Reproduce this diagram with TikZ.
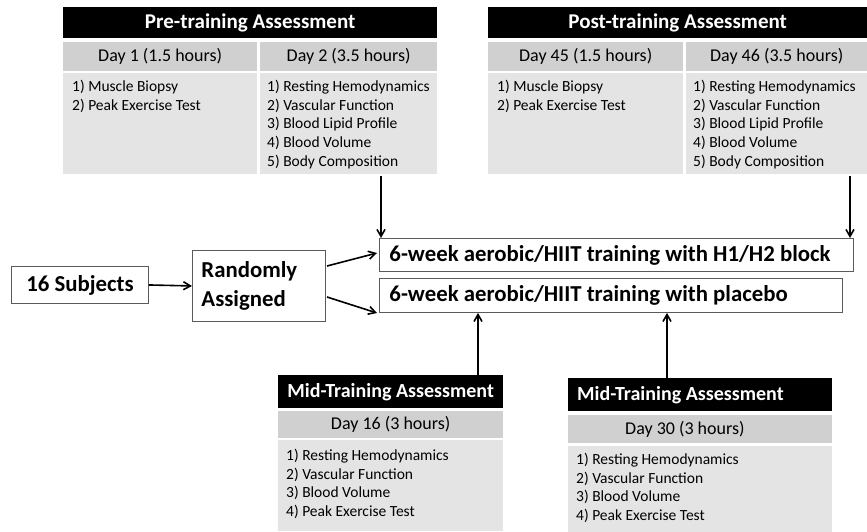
\documentclass[tikz,border=0pt]{standalone}
\usepackage{fontspec}
\setmainfont{Carlito}
\usetikzlibrary{arrows.meta}
\definecolor{daygray}{RGB}{208,208,208}
\definecolor{listgray}{RGB}{228,228,228}
\definecolor{boxline}{RGB}{90,90,90}
\begin{document}
\begin{tikzpicture}[x=1pt,y=-1pt,
  hdr/.style={fill=black, text=white, font=\fontsize{21}{24}\selectfont\bfseries, inner sep=0pt, anchor=north west},
  midhdr/.style={hdr, font=\fontsize{20}{24}\selectfont\bfseries},
  dayc/.style={fill=daygray, font=\fontsize{18}{21}\selectfont, inner sep=0pt, anchor=north west},
  listc/.style={fill=listgray, inner sep=0pt, anchor=north west},
  items/.style={font=\fontsize{15.5}{18.7}\selectfont, align=left, anchor=north west, inner sep=0pt},
  plainbox/.style={draw=boxline, line width=0.9pt, fill=white, inner sep=0pt, font=\fontsize{22.8}{29}\selectfont\bfseries},
  arr/.style={-{Straight Barb[length=7pt,width=8pt]}, line width=1.6pt}
]
\useasboundingbox (0,0) rectangle (867,531);

% ---------- Pre-training ----------
\node[hdr, minimum width=374pt, minimum height=31pt] (preH) at (63,7) {Pre-training Assessment};
\node[dayc, minimum width=194pt, minimum height=29pt] (d1) at (63,42) {Day 1 (1.5 hours)};
\node[dayc, minimum width=177pt, minimum height=29pt] (d2) at (260,42) {Day 2 (3.5 hours)};
\node[listc, minimum width=194pt, minimum height=101pt] (d1l) at (63,73) {};
\node[listc, minimum width=177pt, minimum height=101pt] (d2l) at (260,73) {};
\node[items] (d1t) at (72,80) {1) Muscle Biopsy\\2) Peak Exercise Test};
\node[items] (d2t) at (267,80) {1) Resting Hemodynamics\\2) Vascular Function\\3) Blood Lipid Profile\\4) Blood Volume\\5) Body Composition};

% ---------- Post-training ----------
\node[hdr, minimum width=379pt, minimum height=31pt] (postH) at (488,7) {Post-training Assessment};
\node[dayc, minimum width=195pt, minimum height=29pt] (d45) at (488,42) {Day 45 (1.5 hours)};
\node[dayc, minimum width=181pt, minimum height=29pt] (d46) at (686,42) {Day 46 (3.5 hours)};
\node[listc, minimum width=195pt, minimum height=101pt] (d45l) at (488,73) {};
\node[listc, minimum width=181pt, minimum height=101pt] (d46l) at (686,73) {};
\node[items] (d45t) at (497,80) {1) Muscle Biopsy\\2) Peak Exercise Test};
\node[items] (d46t) at (693,80) {1) Resting Hemodynamics\\2) Vascular Function\\3) Blood Lipid Profile\\4) Blood Volume\\5) Body Composition};

% ---------- Middle row ----------
\node[plainbox, anchor=north west, minimum width=137pt, minimum height=37pt] (subj) at (11,266) {16 Subjects};
\node[plainbox, anchor=north west, minimum width=133pt, minimum height=71pt, text width=123pt, inner xsep=5pt, align=left] (rand) at (192,250) {\hspace*{4pt}Randomly\\\hspace*{4pt}Assigned};
\node[plainbox, anchor=north west, minimum width=474pt, minimum height=33pt] (h1) at (379,238) {\makebox[474pt][l]{\hspace{10pt}6-week aerobic/HIIT training with H1/H2 block}};
\node[plainbox, anchor=north west, minimum width=463pt, minimum height=34pt] (plac) at (379,278) {\makebox[463pt][l]{\hspace{10pt}6-week aerobic/HIIT training with placebo}};

% ---------- Mid-training 1 ----------
\node[midhdr, minimum width=225pt, minimum height=33pt] (m1H) at (278,375) {Mid-Training Assessment};
\node[dayc, minimum width=225pt, minimum height=27pt] (d16) at (278,411) {Day 16 (3 hours)};
\node[listc, minimum width=225pt, minimum height=91pt] (d16l) at (278,440) {};
\node[items] (d16t) at (286,449) {1) Resting Hemodynamics\\2) Vascular Function\\3) Blood Volume\\4) Peak Exercise Test};

% ---------- Mid-training 2 ----------
\node[midhdr, minimum width=264pt, minimum height=33pt] (m2H) at (568,378) {\makebox[264pt][l]{\hspace{9pt}Mid-Training Assessment}};
\node[dayc, minimum width=264pt, minimum height=28pt] (d30) at (568,415) {\makebox[264pt][l]{\hspace{57pt}Day 30 (3 hours)}};
\node[listc, minimum width=264pt, minimum height=86pt] (d30l) at (568,446) {};
\node[items] (d30t) at (576,453) {1) Resting Hemodynamics\\2) Vascular Function\\3) Blood Volume\\4) Peak Exercise Test};

% ---------- Connectors ----------
\coordinate (a1) at (381,176);
\coordinate (a2) at (850,176);
\coordinate (a3) at (478,375);
\coordinate (a4) at (667,378);
\draw[arr] (a1) -- (a1 |- h1.north);
\draw[arr] (a2) -- (a2 |- h1.north);
\draw[arr] (a3) -- (a3 |- plac.south);
\draw[arr] (a4) -- (a4 |- plac.south);
\draw[arr] (subj.east) -- (rand.west);
\coordinate (r1) at (327,266);
\coordinate (r2) at (327,297);
\draw[arr] (r1) -- (377,253);
\draw[arr] (r2) -- (377,313);
\end{tikzpicture}
\end{document}
